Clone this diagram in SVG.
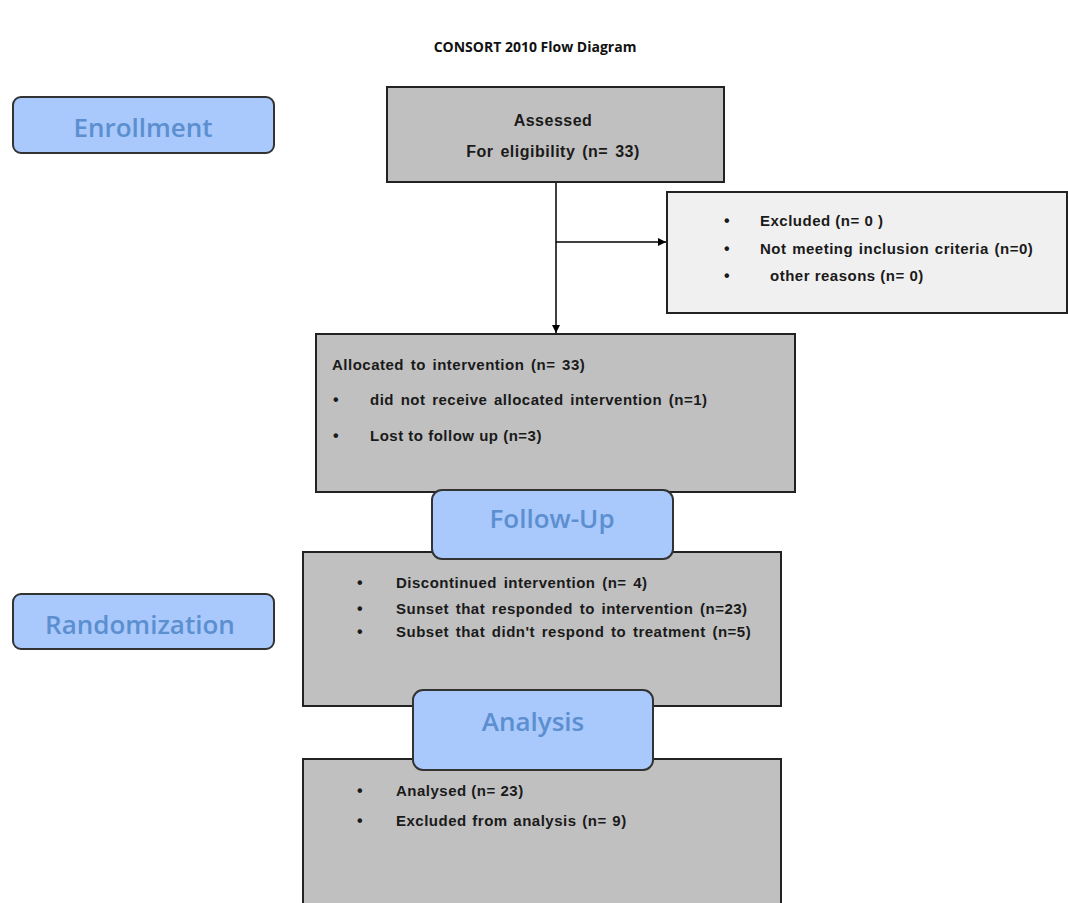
<svg xmlns="http://www.w3.org/2000/svg" width="1068" height="903" viewBox="0 0 1068 903">
<defs>
<marker id="arr" viewBox="0 0 10 10" refX="10" refY="5" markerWidth="8" markerHeight="8" orient="auto" markerUnits="userSpaceOnUse">
<path d="M0,0 L10,5 L0,10 z" fill="#000"/>
</marker>
<style>
.stage{fill:#a9c8fb;stroke:#333;stroke-width:2}
.stxt{font-family:"Open Sans","Liberation Sans",sans-serif;font-size:26px;fill:#5b8fd0;font-weight:600;text-anchor:middle}
.box{fill:#c0c0c0;stroke:#222;stroke-width:2}
.lbox{fill:#f0f0f0;stroke:#222;stroke-width:2}
.t{font-family:"Liberation Sans",Arial,sans-serif;font-size:15px;font-weight:bold;fill:#1a1a1a;letter-spacing:0.5px}
.b{font-family:"Liberation Sans",Arial,sans-serif;font-size:16px;font-weight:bold;fill:#1a1a1a}
.h{font-size:16px}
.c{text-anchor:middle}
.title{font-family:"Open Sans","Liberation Sans",sans-serif;font-size:14px;font-weight:bold;fill:#111;text-anchor:middle}
.ln{stroke:#000;stroke-width:1.5;fill:none}
</style>
</defs>
<rect width="1068" height="903" fill="#fff"/>
<text class="title" x="535" y="52">CONSORT 2010 Flow Diagram</text>

<g id="connectors">
<line class="ln" x1="556" y1="182" x2="556" y2="333" marker-end="url(#arr)"/>
<line class="ln" x1="556" y1="242" x2="666" y2="242" marker-end="url(#arr)"/>
</g>

<g id="enrollment">
<rect class="stage" x="13" y="97" width="261" height="56" rx="8"/>
<text class="stxt" x="143" y="137">Enrollment</text>
</g>

<g id="randomization">
<rect class="stage" x="13" y="594" width="261" height="55" rx="8"/>
<text class="stxt" x="140" y="634">Randomization</text>
</g>

<g id="assessed">
<rect class="box" x="387" y="87" width="337" height="95"/>
<text class="t h c" x="553" y="126">Assessed</text>
<text class="t h c" x="553" y="157" word-spacing="2">For eligibility  (n= 33)</text>
</g>

<g id="excluded">
<rect class="lbox" x="667" y="192" width="400" height="121"/>
<text class="b" x="724" y="226">•</text>
<text class="t" x="760" y="226">Excluded (n= 0 )</text>
<text class="b" x="724" y="254">•</text>
<text class="t" x="760" y="254" word-spacing="1">Not meeting inclusion  criteria (n=0)</text>
<text class="b" x="724" y="281">•</text>
<text class="t" x="770" y="281">other reasons  (n= 0)</text>
</g>

<g id="allocated">
<rect class="box" x="316" y="334" width="479" height="158"/>
<text class="t" x="332" y="370" word-spacing="2">Allocated to intervention  (n= 33)</text>
<text class="b" x="333" y="405">•</text>
<text class="t" x="370" y="405" word-spacing="2">did not receive allocated  intervention  (n=1)</text>
<text class="b" x="333" y="441">•</text>
<text class="t" x="370" y="441">Lost to follow up (n=3)</text>
</g>

<g id="followup-box">
<rect class="box" x="303" y="552" width="478" height="154"/>
<text class="b" x="357" y="588">•</text>
<text class="t" x="396" y="588" word-spacing="2">Discontinued  intervention  (n= 4)</text>
<text class="b" x="357" y="614">•</text>
<text class="t" x="396" y="614" word-spacing="2">Sunset that responded  to intervention   (n=23)</text>
<text class="b" x="357" y="637">•</text>
<text class="t" x="396" y="637" word-spacing="2">Subset that didn't respond to treatment (n=5)</text>
</g>

<g id="followup">
<rect class="stage" x="432" y="490" width="241" height="69" rx="10"/>
<text class="stxt" x="552" y="528">Follow-Up</text>
</g>

<g id="analysis-box">
<rect class="box" x="303" y="759" width="478" height="160"/>
<text class="b" x="357" y="796">•</text>
<text class="t" x="396" y="796">Analysed (n= 23)</text>
<text class="b" x="357" y="826">•</text>
<text class="t" x="396" y="826" word-spacing="1">Excluded from analysis (n= 9)</text>
</g>

<g id="analysis">
<rect class="stage" x="413" y="690" width="240" height="80" rx="10"/>
<text class="stxt" x="533" y="731">Analysis</text>
</g>
</svg>
